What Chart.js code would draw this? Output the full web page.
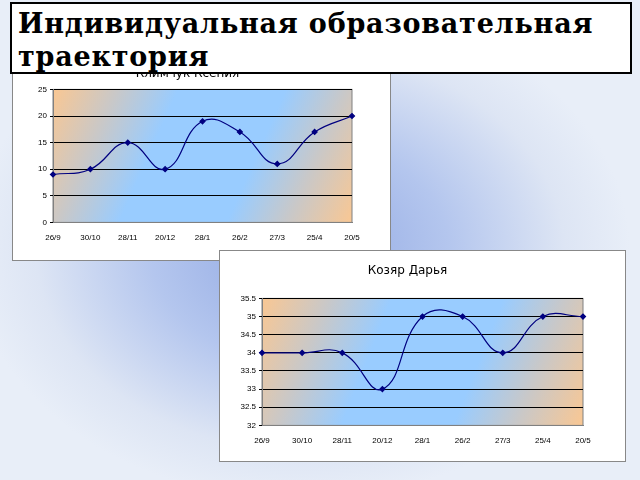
<!DOCTYPE html>
<html><head><meta charset="utf-8">
<script src="https://cdn.jsdelivr.net/npm/chart.js@4"></script>
<style>
body{margin:0;width:640px;height:480px;overflow:hidden;position:relative;
 background:radial-gradient(ellipse 330px 250px at 300px 250px,#8ea6e2 0%,#b4c6ee 45%,#dde5f4 80%,#e8eef8 100%);font-family:"DejaVu Sans",sans-serif}
.box{position:absolute;background:#fff;border:1px solid #888}
#hdr{position:absolute;left:10px;top:2px;width:622px;height:72px;background:#fff;border:2px solid #000;
 font-family:"DejaVu Serif",serif;font-weight:bold;font-size:27px;letter-spacing:0.8px;line-height:33px;padding:3px 0 0 6px;box-sizing:border-box;z-index:5}
</style></head><body>
<div class="box" style="left:12px;top:48px;width:377px;height:211px"><canvas id="c1" width="377" height="211"></canvas></div>
<div class="box" style="left:219px;top:250px;width:405px;height:210px"><canvas id="c2" width="405" height="210"></canvas></div>
<div id="hdr">Индивидуальная образовательная<br>траектория</div>
<script>
const dates = ['26/9','30/10','28/11','20/12','28/1','26/2','27/3','25/4','20/5'];
const klimchuk = [9,10,15,10,19,17,11,17,20];
const kozyar = [34,34,34,33,35,35,34,35,35];

const bgPlugin = {
  id:'bg',
  beforeDraw(chart){
    const a = chart.chartArea, ctx = chart.ctx;
    const g = ctx.createLinearGradient(a.left,a.top,a.right,a.bottom);
    g.addColorStop(0,'#f9c793');
    g.addColorStop(0.18,'#c9c8c8');
    g.addColorStop(0.35,'#99ccff');
    g.addColorStop(0.65,'#99ccff');
    g.addColorStop(0.82,'#c9c8c8');
    g.addColorStop(1,'#f9c793');
    ctx.save(); ctx.fillStyle=g; ctx.fillRect(a.left,a.top,a.right-a.left,a.bottom-a.top);
    ctx.strokeStyle='#808080'; ctx.strokeRect(a.left,a.top,a.right-a.left,a.bottom-a.top); ctx.restore();
  }
};

function make(id, title, values, min, max, step, pad, yw, tp){
  new Chart(document.getElementById(id), {
    type:'line',
    data:{labels:dates, datasets:[{data:values, borderColor:'#000080', backgroundColor:'#000080',
      borderWidth:1.2, tension:0.45, pointStyle:'rectRot', pointRadius:2.5, fill:false}]},
    options:{responsive:false, animation:false,
      layout:{padding:pad},
      plugins:{legend:{display:false}, tooltip:{enabled:false},
        title:{display:true, text:title, color:'#000', font:{family:'DejaVu Sans', size:12, weight:'normal'}, padding:{top:0,bottom:tp}}},
      scales:{
        x:{offset:false, grid:{display:false, drawTicks:true}, border:{color:'#808080'},
          ticks:{color:'#000', font:{size:8}, maxRotation:0, autoSkip:false}},
        y:{min:min, max:max, afterFit(s){s.width=yw;},
          ticks:{stepSize:step, color:'#000', font:{size:8}, callback:v=>String(v)},
          grid:{color:'#000', drawTicks:true, tickLength:3}, border:{color:'#808080'}}
      }},
    plugins:[bgPlugin]
  });
}
make('c1','Климчук Ксения',klimchuk,0,25,5,{left:10,right:38,top:18,bottom:14},30,8);
make('c2','Козяр Дарья',kozyar,32,35.5,0.5,{left:12,right:42,top:13,bottom:12},30,20);
</script>
</body></html>
